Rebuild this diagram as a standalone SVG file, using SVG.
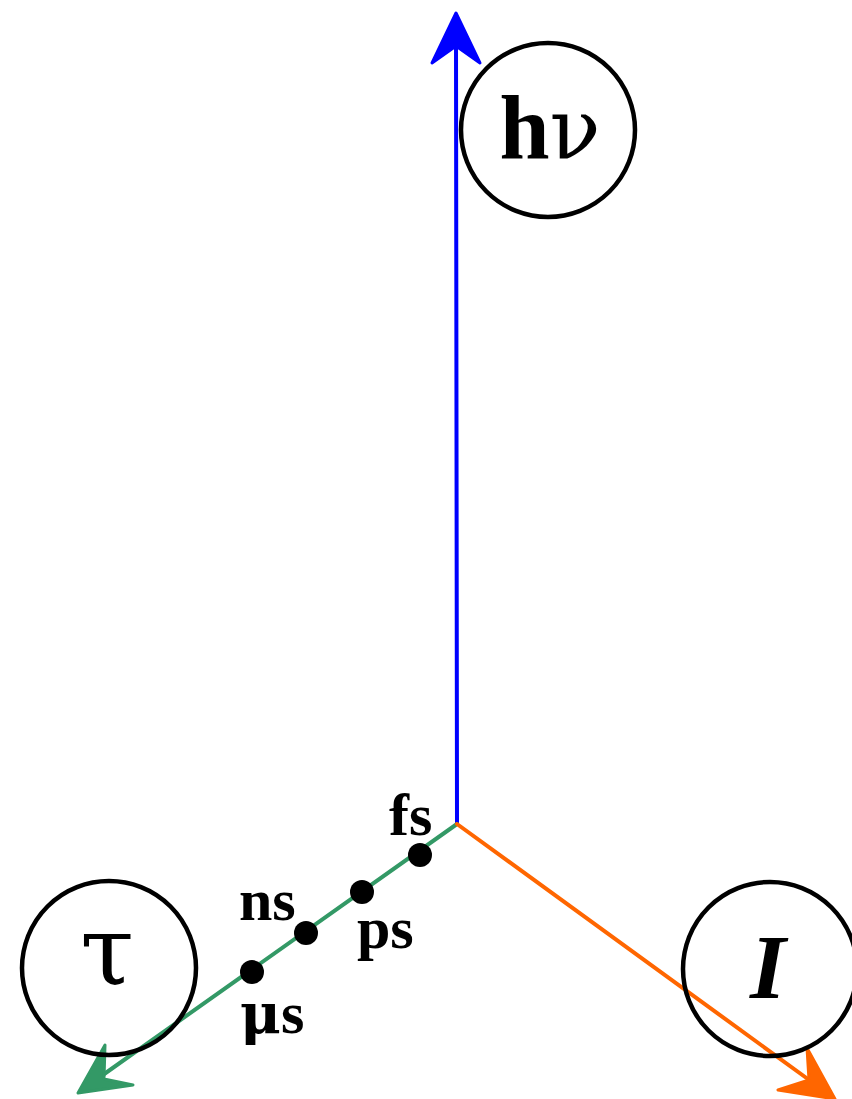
<svg xmlns="http://www.w3.org/2000/svg" width="852" height="1099" viewBox="0 0 852 1099">
<style>
.node{fill:none;stroke:#000;stroke-width:4.5}
.lbl{font-family:"Liberation Serif","Times New Roman",serif;font-weight:bold;fill:#000}
.big{font-family:"Liberation Serif","Times New Roman",serif;fill:#000;text-anchor:middle}
.gr{font-family:"DejaVu Serif",serif}
.ax{fill:none;stroke-width:4;stroke-linecap:round}
.head{stroke-width:3;stroke-linejoin:round}
.dot{fill:#000}
</style>
<rect width="852" height="1099" fill="#fff"/>
<g id="connectors">
<line class="ax" x1="457" y1="824" x2="456" y2="40" stroke="#0000ff"/>
<path class="head" d="M456,13 L480,63 L456,46 L432,63 Z" fill="#0000ff" stroke="#0000ff"/>
<line class="ax" x1="457" y1="824" x2="100" y2="1077" stroke="#339966"/>
<path class="head" d="M78,1093 L105,1045 L104,1079 L133,1085 Z" fill="#339966" stroke="#339966"/>
<line class="ax" x1="457" y1="824" x2="812" y2="1082" stroke="#ff6600"/>
<path class="head" d="M835,1099 L807,1048 L809,1080 L778,1090 Z" fill="#ff6600" stroke="#ff6600"/>
</g>
<g id="node-hv">
<circle class="node" cx="548" cy="130" r="87"/>
<text class="big" x="550" y="158" font-size="90" font-weight="bold">h<tspan class="gr" font-weight="normal" font-size="84">ν</tspan></text>
</g>
<g id="node-tau">
<circle class="node" cx="109" cy="968" r="87"/>
<text class="big gr" x="107" y="985" font-size="98">τ</text>
</g>
<g id="node-I">
<circle class="node" cx="770" cy="969" r="87"/>
<text class="big" x="768" y="998" font-size="92" font-weight="bold" font-style="italic">I</text>
</g>
<g id="ticks">
<circle class="dot" cx="420" cy="855" r="12"/>
<circle class="dot" cx="362" cy="892" r="12"/>
<circle class="dot" cx="306" cy="933" r="12"/>
<circle class="dot" cx="252" cy="972" r="12"/>
<text class="lbl" x="389" y="835" font-size="60">fs</text>
<text class="lbl" x="357" y="948" font-size="60">ps</text>
<text class="lbl" x="239" y="920" font-size="60">ns</text>
<text class="lbl" x="240" y="1033" font-size="60"><tspan class="gr" font-weight="bold" font-size="56">μ</tspan>s</text>
</g>
</svg>
